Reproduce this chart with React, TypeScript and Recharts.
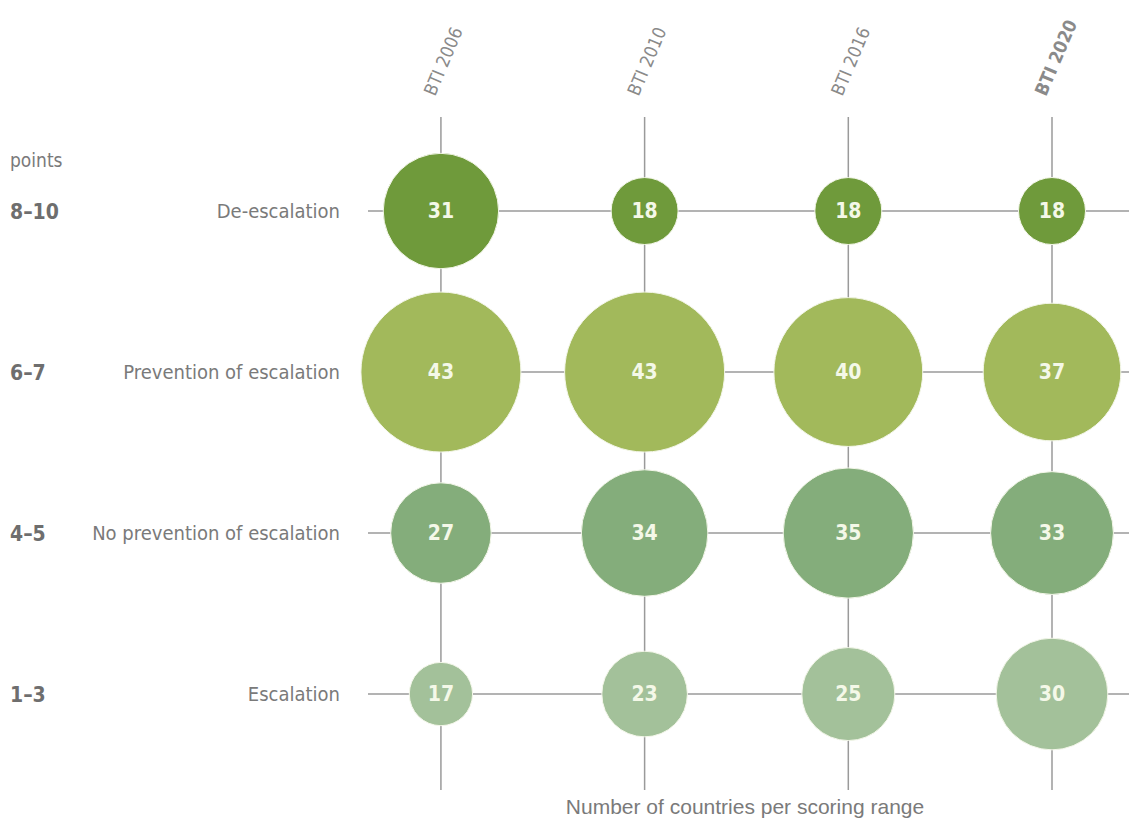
import React from 'react';
import { ScatterChart, Scatter, XAxis, YAxis, ZAxis, ReferenceLine, LabelList } from 'recharts';

const years = ['BTI 2006', 'BTI 2010', 'BTI 2016', 'BTI 2020'];
const levels = ['De-escalation', 'Prevention of escalation', 'No prevention of escalation', 'Escalation'];
const ranges = ['8–10', '6–7', '4–5', '1–3'];

const deEscalation = [31, 18, 18, 18];
const prevention = [43, 43, 40, 37];
const noPrevention = [27, 34, 35, 33];
const escalation = [17, 23, 25, 30];

const colors = ['#6f9a3b', '#a2b95b', '#84ad7b', '#a3c19a'];

const narrow = '"DejaVu Sans Condensed", "DejaVu Sans", sans-serif';

const rows = [deEscalation, prevention, noPrevention, escalation];
const gridX = [0, 1, 2, 3];
const gridY = [0, 1, 2, 3];

// row 0 sits on top, so y runs 3..0
const toPoints = (vals: number[], row: number) =>
  vals.map((count, i) => ({ x: i, y: 3 - row, count }));

const YearTick = (props: any) => {
  const { x, payload } = props;
  const last = payload.value === years.length - 1;
  const tx = x - 6;
  return (
    <text
      x={tx}
      y={97}
      transform={`rotate(-67 ${tx} 97)`}
      fill="#8a8a8a"
      fontSize={18}
      fontFamily={narrow}
      fontWeight={last ? 'bold' : 'normal'}
      textAnchor="start"
    >
      {years[payload.value]}
    </text>
  );
};

const LevelTick = (props: any) => {
  const { y, payload } = props;
  const idx = 3 - payload.value;
  return (
    <g>
      <text x={10} y={y} dy={8} fill="#6e6e6e" fontSize={21} fontFamily={narrow} fontWeight="bold" textAnchor="start">
        {ranges[idx]}
      </text>
      <text x={340} y={y} dy={7} fill="#7a7a7a" fontSize={20} fontFamily={narrow} textAnchor="end">
        {levels[idx]}
      </text>
    </g>
  );
};

export default function App() {
  return (
    <div style={{ position: 'absolute', left: 0, top: 0, width: 1129, height: 823, background: '#fff' }}>
      <ScatterChart width={1129} height={823} margin={{ top: 112, right: 0, bottom: 33, left: 0 }}>
        <XAxis
          type="number"
          dataKey="x"
          orientation="top"
          height={5}
          domain={[-0.358, 3.378]}
          ticks={gridX}
          axisLine={false}
          tickLine={false}
          tick={<YearTick />}
          interval={0}
        />
        <YAxis
          type="number"
          dataKey="y"
          width={368}
          domain={[-0.596, 3.584]}
          ticks={gridY}
          axisLine={false}
          tickLine={false}
          tick={<LevelTick />}
          interval={0}
        />
        <ZAxis
          type="number"
          dataKey={(d: any) => d.count * d.count}
          domain={[0, 43 * 43]}
          range={[0, Math.PI * 80 * 80]}
        />
        {gridX.map((v) => (
          <ReferenceLine key={`vx${v}`} x={v} stroke="#9a9a9a" strokeWidth={1.5} />
        ))}
        {gridY.map((v) => (
          <ReferenceLine key={`hy${v}`} y={v} stroke="#9a9a9a" strokeWidth={1.5} />
        ))}
        {rows.map((vals, r) => (
          <Scatter
            key={levels[r]}
            name={levels[r]}
            data={toPoints(vals, r)}
            fill={colors[r]}
            stroke="#f4f7ea"
            strokeWidth={1}
            isAnimationActive={false}
          >
            <LabelList
              dataKey="count"
              position="center"
              fill="#f4f8e8"
              fontSize={21}
              fontFamily={narrow}
              fontWeight="bold"
            />
          </Scatter>
        ))}
      </ScatterChart>
      <div style={{ position: 'absolute', left: 10, top: 149, fontFamily: narrow, fontSize: 19, color: '#7a7a7a' }}>
        points
      </div>
      <div
        style={{
          position: 'absolute',
          left: 495,
          width: 500,
          top: 795,
          textAlign: 'center',
          fontFamily: '"Liberation Sans", Arial, sans-serif',
          fontSize: 21,
          color: '#7a7a7a',
        }}
      >
        Number of countries per scoring range
      </div>
    </div>
  );
}
